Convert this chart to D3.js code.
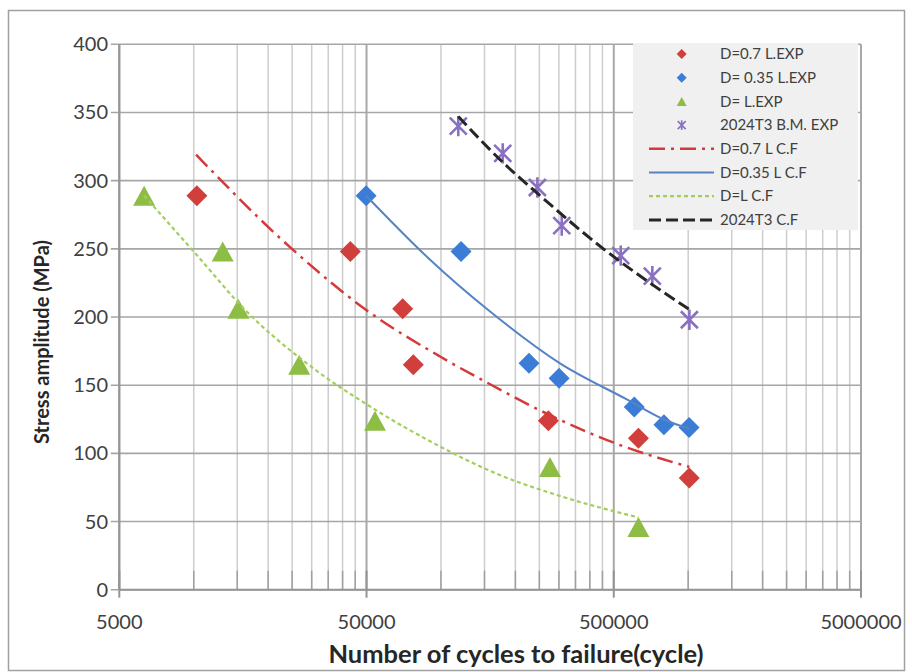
<!DOCTYPE html>
<html>
<head>
<meta charset="utf-8">
<script src="https://cdn.jsdelivr.net/npm/d3@7"></script>
<style>
  html, body { margin: 0; padding: 0; background: #ffffff; }
  svg { display: block; }
  text { font-family: Lato, "Open Sans", sans-serif; }
</style>
</head>
<body>
<svg id="chart" width="912" height="672"></svg>
<script>
// ---- experimental S-N data (cycles to failure, stress amplitude in MPa) ----
const d07ExpN   = [10300, 43000, 70000, 77300, 272000, 629000, 1010000];
const d07ExpS   = [289, 248, 206, 165, 124, 111, 82];

const d035ExpN  = [49800, 120600, 227000, 300500, 605000, 798000, 1008000];
const d035ExpS  = [289, 248, 166, 155, 134, 121, 119];

const dLExpN    = [6300, 13100, 15150, 26700, 54100, 276000, 629000];
const dLExpS    = [289, 248, 206, 165, 124, 90, 46];

const bmExpN    = [117500, 177800, 245500, 308000, 533600, 716000, 1011000];
const bmExpS    = [340, 320, 295, 267, 245, 230, 198];

// ---- fitted curves ----
const d07FitN   = [10220, 25290, 50000, 99200, 153200, 276000, 514000, 1011000];
const d07FitS   = [319, 249, 205, 171, 152, 128, 107, 90];

const d035FitN  = [49800, 90350, 158000, 303000, 565000, 793500, 1008000];
const d035FitS  = [289, 242, 204, 166, 139.5, 125, 118];

const dLFitN    = [6300, 10220, 16380, 28650, 50000, 99200, 168200, 312500, 629000];
const dLFitS    = [289, 246, 204, 166, 136, 105, 85, 68, 53];

const bmFitN    = [117500, 179000, 251700, 454000, 700000, 1011000];
const bmFitS    = [347, 313, 289, 250, 225, 205.5];

// ---- axes ----
const xDomain     = [5000, 5000000];
const xTickValues = [5000, 50000, 500000, 5000000];
const yDomain     = [0, 400];
const yTickValues = [0, 50, 100, 150, 200, 250, 300, 350, 400];

const xTitle = "Number of cycles to failure(cycle)";
const yTitle = "Stress amplitude (MPa)";

const legendLabels = [
  "D=0.7 L.EXP", "D= 0.35 L.EXP", "D= L.EXP", "2024T3 B.M. EXP",
  "D=0.7 L C.F", "D=0.35 L C.F", "D=L C.F", "2024T3 C.F"
];

// ---- layout ----
const svg = d3.select("#chart");
const plot = { left: 119.3, right: 861, top: 44.3, bottom: 589.7 };

const x = d3.scaleLog().domain(xDomain).range([plot.left, plot.right]);
const y = d3.scaleLinear().domain(yDomain).range([plot.bottom, plot.top]);

const colors = {
  red: "#d13f3c", blue: "#3b7dd6", green: "#8dbd44", purple: "#8a70c2",
  redLine: "#d43a3a", blueLine: "#5583c6", greenLine: "#a2cf5c", blackLine: "#262626"
};

// outer frame
svg.append("rect")
  .attr("x", 8.5).attr("y", 10.5).attr("width", 896).attr("height", 660)
  .attr("fill", "#ffffff").attr("stroke", "#a0a0a0").attr("stroke-width", 1.5);

// minor ticks on log axis: 2..9 times each decade start
const minorVals = [];
for (let d = 0; d < 3; d++) {
  for (let k = 2; k <= 9; k++) minorVals.push(5000 * Math.pow(10, d) * k);
}

const grid = svg.append("g");
grid.selectAll("line.minor").data(minorVals).join("line")
  .attr("x1", d => x(d)).attr("x2", d => x(d))
  .attr("y1", plot.top).attr("y2", plot.bottom)
  .attr("stroke", "#cdcdcd").attr("stroke-width", 1.5);
grid.selectAll("line.major").data(xTickValues).join("line")
  .attr("x1", d => x(d)).attr("x2", d => x(d))
  .attr("y1", plot.top).attr("y2", plot.bottom)
  .attr("stroke", "#a8a8a8").attr("stroke-width", 2);
grid.selectAll("line.h").data(yTickValues).join("line")
  .attr("x1", plot.left - 8.5).attr("x2", plot.right)
  .attr("y1", d => y(d)).attr("y2", d => y(d))
  .attr("stroke", "#a6a6a6").attr("stroke-width", 1.6);

// x axis ticks (minor inside, major crossing)
grid.selectAll("line.mtick").data(minorVals).join("line")
  .attr("x1", d => x(d)).attr("x2", d => x(d))
  .attr("y1", plot.bottom - 19).attr("y2", plot.bottom)
  .attr("stroke", "#a0a0a0").attr("stroke-width", 1.5);
grid.selectAll("line.Mtick").data(xTickValues).join("line")
  .attr("x1", d => x(d)).attr("x2", d => x(d))
  .attr("y1", plot.bottom - 19).attr("y2", plot.bottom + 8)
  .attr("stroke", "#959595").attr("stroke-width", 2);

// axis lines
svg.append("line")
  .attr("x1", plot.left).attr("x2", plot.right)
  .attr("y1", plot.bottom).attr("y2", plot.bottom)
  .attr("stroke", "#959595").attr("stroke-width", 2);
svg.append("line")
  .attr("x1", plot.left).attr("x2", plot.left)
  .attr("y1", plot.top).attr("y2", plot.bottom)
  .attr("stroke", "#959595").attr("stroke-width", 2);

// tick labels
svg.append("g").selectAll("text").data(yTickValues).join("text")
  .attr("x", 108).attr("y", d => y(d)).attr("dy", "0.35em")
  .attr("text-anchor", "end").attr("font-size", 20).attr("fill", "#404040")
  .text(d => d);
svg.append("g").selectAll("text").data(xTickValues).join("text")
  .attr("x", d => x(d)).attr("y", 629)
  .attr("text-anchor", "middle").attr("font-size", 20).attr("fill", "#404040")
  .text(d => d);

// axis titles
svg.append("text")
  .attr("transform", `translate(49,${(plot.top + plot.bottom) / 2 + 25}) rotate(-90)`)
  .attr("text-anchor", "middle").attr("font-size", 20).attr("font-weight", "bold")
  .attr("fill", "#262626").text(yTitle);
svg.append("text")
  .attr("x", 516).attr("y", 663)
  .attr("text-anchor", "middle").attr("font-size", 25.5).attr("font-weight", "bold")
  .attr("fill", "#262626").text(xTitle);

// fitted curves
const line = d3.line().x(d => x(d[0])).y(d => y(d[1])).curve(d3.curveMonotoneX);
const zip = (a, b) => a.map((v, i) => [v, b[i]]);

const fits = [
  { n: d07FitN,  s: d07FitS,  color: colors.redLine,   w: 2.5, dash: "16,6,3,6" },
  { n: d035FitN, s: d035FitS, color: colors.blueLine,  w: 2,   dash: null },
  { n: dLFitN,   s: dLFitS,   color: colors.greenLine, w: 2.2, dash: "4,3" },
  { n: bmFitN,   s: bmFitS,   color: colors.blackLine, w: 3,   dash: "12,5" }
];

// marker shapes
const diamond = r => `M0,${-r}L${r},0L0,${r}L${-r},0Z`;
const triangle = (w, h) => `M0,${-h / 2}L${w / 2},${h / 2}L${-w / 2},${h / 2}Z`;
const star = r => `M${-r},${-r}L${r},${r}M${-r},${r}L${r},${-r}M0,${-r * 1.2}L0,${r * 1.2}`;

function drawDiamonds(g, n, s, color, r) {
  g.selectAll(null).data(zip(n, s)).join("path")
    .attr("transform", d => `translate(${x(d[0])},${y(d[1])})`)
    .attr("d", diamond(r)).attr("fill", color);
}
function drawTriangles(g, n, s, color, w, h) {
  g.selectAll(null).data(zip(n, s)).join("path")
    .attr("transform", d => `translate(${x(d[0])},${y(d[1])})`)
    .attr("d", triangle(w, h)).attr("fill", color);
}
function drawStars(g, n, s, color, r) {
  g.selectAll(null).data(zip(n, s)).join("path")
    .attr("transform", d => `translate(${x(d[0])},${y(d[1])})`)
    .attr("d", star(r)).attr("fill", "none").attr("stroke", color).attr("stroke-width", 2.6);
}

const marks = svg.append("g");
drawDiamonds(marks, d07ExpN, d07ExpS, colors.red, 10.5);
drawDiamonds(marks, d035ExpN, d035ExpS, colors.blue, 10.5);
drawTriangles(marks, dLExpN, dLExpS, colors.green, 22, 20);
drawStars(marks, bmExpN, bmExpS, colors.purple, 8.5);

const curves = svg.append("g");
fits.forEach(f => {
  curves.append("path")
    .attr("d", line(zip(f.n, f.s)))
    .attr("fill", "none").attr("stroke", f.color).attr("stroke-width", f.w)
    .attr("stroke-dasharray", f.dash);
});

// legend
const lg = svg.append("g");
lg.append("rect").attr("x", 633).attr("y", 43).attr("width", 225).attr("height", 187)
  .attr("fill", "#f0f0f0");
const rowY = i => 54 + i * 23.7;
const symX = 681.7;
legendLabels.forEach((t, i) => {
  lg.append("text").attr("x", 720).attr("y", rowY(i)).attr("dy", "0.35em")
    .attr("font-size", 15).attr("fill", "#404040").text(t);
});
lg.append("path").attr("transform", `translate(${symX},${rowY(0)})`).attr("d", diamond(5)).attr("fill", colors.red);
lg.append("path").attr("transform", `translate(${symX},${rowY(1)})`).attr("d", diamond(5)).attr("fill", colors.blue);
lg.append("path").attr("transform", `translate(${symX},${rowY(2)})`).attr("d", triangle(10, 9)).attr("fill", colors.green);
lg.append("path").attr("transform", `translate(${symX},${rowY(3)})`).attr("d", star(4)).attr("fill", "none")
  .attr("stroke", colors.purple).attr("stroke-width", 1.6);
fits.forEach((f, i) => {
  lg.append("line").attr("x1", 649).attr("x2", 714)
    .attr("y1", rowY(4 + i)).attr("y2", rowY(4 + i))
    .attr("stroke", f.color).attr("stroke-width", f.w).attr("stroke-dasharray", f.dash);
});
</script>
</body>
</html>
